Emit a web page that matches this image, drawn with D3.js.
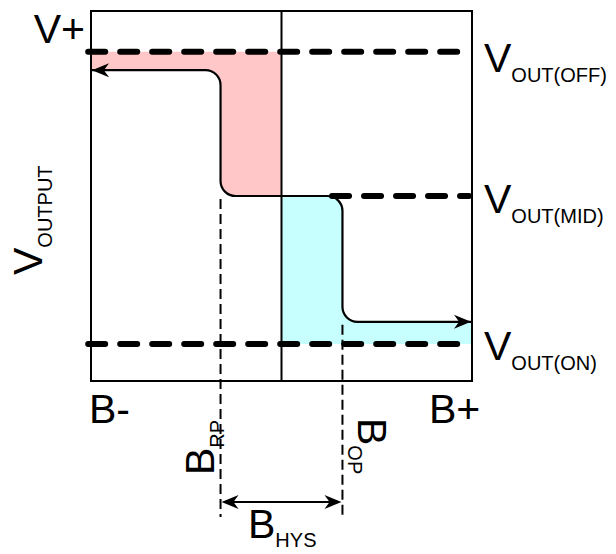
<!DOCTYPE html>
<html><head><meta charset="utf-8">
<script src="https://cdn.jsdelivr.net/npm/d3@7"></script>
<style>
html,body{margin:0;padding:0;background:#fff;}
svg{display:block;font-family:"Liberation Sans",Arial,sans-serif;}
</style></head>
<body>
<svg id="c" width="616" height="554"></svg>
<script>
// ---- data (diagram units: field 0..100, output 0..100) ----
const levelNames = ["OFF", "MID", "ON"];
const levelValues = [89, 50, 10];          // V_OUT(OFF), V_OUT(MID), V_OUT(ON)
const curveHigh = 84, curveLow = 16;        // output plateaus of the transfer curve
const fieldPoints = ["RP", "OP"];
const fieldValues = [34, 66];               // B_RP, B_OP
const fieldCenter = 50;                     // B = 0
const releasePath = [[50, 50], [34, 50], [34, 84], [0, 84]];
const operatePath = [[50, 50], [66, 50], [66, 16], [100, 16]];
const redArea = [[0, 89], [50, 89], [50, 50], [34, 50], [34, 84], [0, 84]];
const cyanArea = [[50, 50], [66, 50], [66, 16], [100, 16], [100, 10], [50, 10]];

const svg = d3.select("#c");
const x = d3.scaleLinear().domain([0, 100]).range([91, 472]);
const y = d3.scaleLinear().domain([0, 100]).range([381, 11]);
const R = 15;

function rounded(pts, close, radius) {
  const p = d3.path();
  const P = pts.map(d => [x(d[0]), y(d[1])]);
  p.moveTo(P[0][0], P[0][1]);
  for (let i = 1; i < P.length - 1; i++) {
    p.arcTo(P[i][0], P[i][1], P[i + 1][0], P[i + 1][1], radius[i] || 0);
  }
  p.lineTo(P[P.length - 1][0], P[P.length - 1][1]);
  if (close) p.closePath();
  return p.toString();
}

// fills
svg.append("path").attr("d", rounded(redArea, true, [0, 0, 0, R, R, 0])).attr("fill", "#ffc7c7");
svg.append("path").attr("d", rounded(cyanArea, true, [0, R, R, 0, 0, 0])).attr("fill", "#c7ffff");

// frame
svg.append("rect").attr("x", x(0)).attr("y", y(100)).attr("width", x(100) - x(0)).attr("height", y(0) - y(100))
  .attr("fill", "none").attr("stroke", "#000").attr("stroke-width", 2);
svg.append("line").attr("x1", x(fieldCenter)).attr("x2", x(fieldCenter)).attr("y1", y(100)).attr("y2", y(0))
  .attr("stroke", "#000").attr("stroke-width", 2);

// thin dashed field markers
const markerTop = [50, 16];
fieldValues.forEach((v, i) => {
  svg.append("line").attr("x1", x(v)).attr("x2", x(v)).attr("y1", y(markerTop[i]) + 3).attr("y2", 517)
    .attr("stroke", "#000").attr("stroke-width", 2).attr("stroke-dasharray", "10,5");
});

// thick dashed output levels
const levelStart = [-1, 63, -1];
levelValues.forEach((v, i) => {
  svg.append("line").attr("x1", x(levelStart[i]) + 1).attr("x2", x(100) - 3).attr("y1", y(v)).attr("y2", y(v))
    .attr("stroke", "#000").attr("stroke-width", 6).attr("stroke-linecap", "round")
    .attr("stroke-dasharray", "17,15");
});

// transfer curves
svg.append("path").attr("d", rounded(releasePath, false, [0, R, R, 0])).attr("fill", "none")
  .attr("stroke", "#000").attr("stroke-width", 2.2);
svg.append("path").attr("d", rounded(operatePath, false, [0, R, R, 0])).attr("fill", "none")
  .attr("stroke", "#000").attr("stroke-width", 2.2);

function arrowHead(tx, ty, dir, len, half) {
  svg.append("path").attr("d", `M${tx},${ty} L${tx - dir * len},${ty - half} L${tx - dir * len * 0.7},${ty} L${tx - dir * len},${ty + half} Z`)
    .attr("fill", "#000");
}
arrowHead(x(0) + 1, y(curveHigh), -1, 17, 7);
arrowHead(x(100) - 1, y(curveLow), 1, 17, 7);

// hysteresis dimension
const hy = 502;
svg.append("line").attr("x1", x(fieldValues[0]) + 8).attr("x2", x(fieldValues[1]) - 8).attr("y1", hy).attr("y2", hy)
  .attr("stroke", "#000").attr("stroke-width", 2.2);
arrowHead(x(fieldValues[0]) + 1, hy, -1, 17, 7);
arrowHead(x(fieldValues[1]) - 1, hy, 1, 17, 7);

// text helpers
const BIG = 41, SUB = 20;
function label(g, main, sub, shift) {
  const t = g.append("text").attr("font-size", BIG).attr("fill", "#000");
  t.append("tspan").text(main);
  if (sub) t.append("tspan").attr("font-size", SUB).attr("dy", shift).text(sub);
  return t;
}
label(svg.append("g").attr("transform", "translate(85,43)"), "V+").attr("text-anchor", "end");
label(svg.append("g").attr("transform", "translate(42,275) rotate(-90)"), "V", "OUTPUT", 10);
label(svg.append("g").attr("transform", "translate(89,423)"), "B-");
label(svg.append("g").attr("transform", "translate(429,423)"), "B+");

const levelLabelY = [y(levelValues[0]) + 20, y(levelValues[1]) + 17, y(levelValues[2]) + 16];
levelNames.forEach((n, i) => {
  label(svg.append("g").attr("transform", `translate(484,${levelLabelY[i]})`), "V", "OUT(" + n + ")", 10);
});

label(svg.append("g").attr("transform", `translate(${x(fieldValues[0]) - 7},475) rotate(-90)`), "B", fieldPoints[0], 10);
label(svg.append("g").attr("transform", `translate(${x(fieldValues[1]) + 16},418) rotate(90)`), "B", fieldPoints[1], 10);
label(svg.append("g").attr("transform", "translate(248,538)"), "B", "HYS", 9);
</script>
</body></html>
